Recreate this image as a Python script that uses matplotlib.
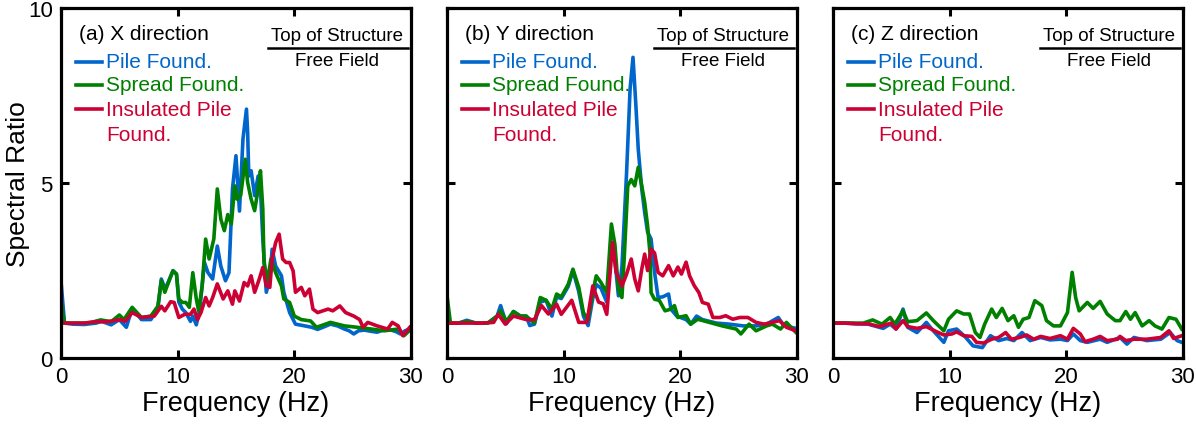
import matplotlib
matplotlib.use("Agg")
import matplotlib.pyplot as plt

plt.rcParams['font.family'] = ['Liberation Sans', 'DejaVu Sans']

# ---- data (frequency in Hz, spectral ratio) ----
# (a) X direction
fa_pile = [0, 0.3, 1.0, 2.0, 3.0, 3.5, 4.3, 5.0, 5.6, 6.1, 6.9, 7.7, 8.3, 8.6, 8.9, 9.1, 9.6, 9.9,
           10.1, 10.4, 10.7, 11.1, 11.3, 11.6, 11.9, 12.3, 12.6, 13.0, 13.4, 13.7, 14.1, 14.4, 14.7,
           15.0, 15.3, 15.6, 15.9, 16.0, 16.1, 16.3, 16.6, 16.9, 17.1, 17.3, 17.6, 17.9, 18.1, 18.4,
           18.9, 19.1, 19.6, 20.1, 20.9, 21.5, 22.0, 22.6, 23.1, 23.7, 24.3, 24.7, 25.1, 25.5, 26.0,
           26.5, 27.1, 27.6, 28.3, 28.7, 29.1, 29.5, 29.9]
va_pile = [2.2, 1.0, 0.97, 0.96, 1.0, 1.05, 0.95, 1.1, 0.88, 1.42, 1.1, 1.1, 1.4, 2.26, 2.0, 2.1, 2.5, 2.4,
           1.6, 1.4, 1.3, 1.05, 1.2, 0.95, 1.4, 2.73, 2.44, 2.26, 3.2, 2.63, 2.21, 2.44, 4.83,
           5.78, 4.2, 6.26, 7.11, 6.45, 5.2, 5.35, 4.64, 5.2, 4.83, 3.4, 1.88, 2.26, 3.11, 2.63,
           2.35, 1.88, 1.3, 0.97, 0.92, 0.88, 0.82, 0.9, 0.97, 0.92, 0.83, 0.78, 0.69, 0.78, 0.8,
           0.77, 0.74, 0.8, 0.8, 0.76, 0.69, 0.78, 0.83]
fa_spread = [0, 0.3, 1.0, 2.0, 2.6, 3.4, 4.3, 5.0, 5.4, 6.1, 6.9, 7.7, 8.3, 8.6, 8.9, 9.1, 9.6, 9.9,
             10.1, 10.4, 10.7, 11.0, 11.3, 11.6, 11.8, 12.1, 12.4, 12.7, 13.1, 13.4, 13.7, 14.0, 14.3,
             14.6, 14.9, 15.1, 15.4, 15.8, 16.0, 16.3, 16.6, 16.9, 17.1, 17.3, 17.4, 17.7, 18.0, 18.4,
             18.9, 19.1, 19.6, 20.0, 20.6, 21.4, 21.9, 23.1, 24.3, 25.4, 26.6, 27.7, 28.9, 29.4, 30]
va_spread = [1.6, 1.0, 1.0, 1.0, 1.02, 1.09, 1.04, 1.23, 1.1, 1.45, 1.16, 1.2, 1.48, 2.21, 1.88, 2.06, 2.49, 2.4,
             1.69, 1.59, 1.59, 1.45, 2.44, 1.69, 1.35, 2.06, 3.4, 2.83, 3.4, 4.83, 3.97, 3.64, 4.1,
             3.83, 4.92, 4.54, 4.64, 5.68, 5.02, 4.54, 4.21, 4.83, 5.35, 4.26, 2.73, 2.21, 2.83, 2.44,
             2.06, 1.69, 1.59, 1.2, 1.1, 1.06, 0.88, 1.02, 0.92, 0.88, 0.83, 0.78, 0.83, 0.64, 0.83]
fa_insul = [0, 1, 2, 3, 4, 5.1, 5.5, 6.1, 6.9, 8.0, 8.6, 8.9, 9.4, 9.7, 10.1, 10.6, 11.1, 11.4, 11.7,
            12.0, 12.4, 12.7, 13.0, 13.4, 13.9, 14.3, 14.7, 14.9, 15.3, 15.7, 16.0, 16.3, 16.6, 17.0,
            17.3, 17.6, 17.9, 18.1, 18.4, 18.7, 19.0, 19.3, 19.6, 19.9, 20.1, 20.6, 20.9, 21.3, 21.6,
            22.0, 22.9, 23.3, 23.9, 24.4, 25.1, 25.6, 25.9, 26.3, 27.1, 28.0, 28.4, 28.9, 29.3, 29.9]
va_insul = [1.0, 1.0, 1.0, 1.04, 1.04, 1.1, 1.05, 1.3, 1.16, 1.2, 1.48, 1.35, 1.61, 1.59, 1.16, 1.25, 1.25, 1.4, 1.1,
            1.3, 1.73, 1.49, 1.73, 2.12, 1.69, 1.92, 1.54, 1.92, 1.63, 2.16, 2.06, 2.35, 1.88, 2.26,
            2.59, 2.06, 2.02, 2.83, 3.3, 3.54, 2.83, 2.73, 2.73, 2.49, 1.88, 2.02, 1.78, 1.97, 1.4,
            1.3, 1.4, 1.35, 1.49, 1.3, 1.2, 1.1, 0.88, 1.02, 0.92, 0.83, 1.02, 0.92, 0.64, 0.88]

# (b) Y direction
fb_pile = [0, 0.3, 1.0, 1.7, 2.5, 3.5, 4.3, 4.6, 5.1, 5.7, 6.3, 6.8, 7.1, 7.5, 8.0, 8.5, 9.0, 9.4, 9.8,
           10.4, 10.8, 11.3, 11.7, 12.1, 12.5, 12.8, 13.2, 13.7, 14.1, 14.4, 14.7, 15.0, 15.4, 15.7,
           15.95, 16.2, 16.4, 16.7, 16.95, 17.2, 17.5, 17.8, 18.1, 18.5, 19.0, 19.2, 19.7, 20.5, 20.9,
           21.4, 21.9, 23.1, 24.2, 25.4, 26.5, 27.4, 28.4, 28.8, 29.5, 29.9]
vb_pile = [1.3, 1.0, 1.0, 1.08, 1.0, 1.0, 1.2, 1.5, 0.98, 1.33, 1.2, 1.2, 0.93, 0.97, 1.6, 1.65, 1.2, 1.75, 1.7,
           2.05, 2.5, 1.9, 1.2, 0.93, 1.7, 2.1, 2.0, 1.6, 3.3, 2.8, 1.78, 2.6, 5.3, 7.69,
           8.59, 7.2, 5.97, 4.83, 4.16, 3.6, 3.4, 2.45, 1.73, 1.75, 1.83, 1.4, 1.2, 1.1, 0.97,
           1.2, 1.1, 1.0, 0.97, 0.92, 0.92, 0.97, 1.16, 0.97, 0.88, 0.85]
fb_spread = [0, 0.3, 1.0, 1.7, 2.5, 3.5, 4.3, 4.6, 5.1, 5.7, 6.3, 6.8, 7.5, 8.0, 8.5, 9.0, 9.4, 9.8,
             10.4, 10.8, 11.3, 11.7, 12.1, 12.5, 12.8, 13.2, 13.7, 14.1, 14.4, 14.7, 15.0, 15.2, 15.5,
             15.8, 16.1, 16.4, 16.7, 16.95, 17.2, 17.4, 17.5, 17.8, 18.2, 18.7, 19.2, 19.5, 19.8, 20.5,
             20.9, 21.5, 22.5, 23.6, 24.8, 25.2, 25.9, 26.5, 27.4, 27.9, 28.6, 29.1, 29.9]
vb_spread = [1.8, 1.0, 1.0, 1.05, 1.0, 1.0, 1.2, 1.35, 1.05, 1.33, 1.2, 1.2, 1.0, 1.73, 1.65, 1.4, 1.83, 1.75,
             2.11, 2.54, 2.02, 1.3, 1.1, 1.87, 2.35, 2.16, 1.87, 3.83, 3.24, 1.95, 1.73, 2.88, 4.92,
             5.1, 4.92, 5.45, 4.92, 4.45, 3.78, 3.02, 1.87, 1.68, 1.65, 1.35, 1.4, 1.5, 1.16, 1.21,
             0.97, 1.11, 1.02, 0.92, 0.83, 0.69, 0.97, 0.78, 0.92, 0.97, 0.83, 1.02, 0.74]
fb_insul = [0, 1, 2, 3, 4, 4.4, 5.0, 5.7, 6.8, 7.5, 8.1, 8.7, 9.4, 9.8, 10.7, 11.3, 12.0, 12.5, 13.0,
            13.4, 13.7, 14.2, 14.5, 15.0, 15.4, 15.8, 16.1, 16.4, 16.7, 16.95, 17.2, 17.5, 17.8, 18.1,
            18.5, 19.0, 19.4, 19.8, 20.1, 20.5, 20.8, 21.2, 21.6, 21.9, 22.4, 22.8, 23.4, 23.9, 24.5,
            25.1, 25.8, 26.5, 27.2, 27.9, 28.5, 29.1, 29.9]
vb_insul = [1.0, 1.0, 1.0, 1.0, 1.02, 1.25, 0.97, 1.2, 1.1, 1.1, 1.5, 1.26, 1.54, 1.25, 1.65, 1.02, 1.02, 2.06, 1.6,
            1.55, 1.25, 3.3, 2.45, 2.06, 2.4, 2.83, 2.26, 1.92, 2.54, 2.97, 2.5, 3.11, 3.0, 2.45,
            2.35, 2.64, 2.35, 2.6, 2.4, 2.74, 2.35, 2.07, 1.87, 1.59, 1.54, 1.16, 1.16, 1.21, 1.11,
            1.16, 1.16, 1.02, 0.97, 1.02, 1.07, 0.88, 0.78]

# (c) Z direction
fc_pile = [0, 1.0, 2.0, 3.0, 4.3, 4.9, 5.4, 6.0, 6.4, 7.2, 8.0, 8.6, 9.5, 9.9, 10.6, 11.3, 12.0, 12.8,
           13.5, 14.2, 14.9, 15.5, 16.2, 16.9, 17.8, 18.6, 19.5, 20.1, 20.6, 21.2, 21.8, 22.9, 23.5,
           24.6, 25.2, 25.8, 26.9, 28.1, 28.9, 29.5, 29.9]
vc_pile = [1.0, 1.0, 0.98, 0.97, 0.85, 0.97, 0.83, 1.4, 0.88, 0.73, 1.02, 0.78, 0.45, 0.78, 0.83, 0.62, 0.35, 0.3,
           0.64, 0.5, 0.56, 0.5, 0.73, 0.5, 0.59, 0.52, 0.54, 0.5, 0.69, 0.5, 0.45, 0.54, 0.45,
           0.59, 0.4, 0.59, 0.5, 0.54, 0.73, 0.5, 0.45]
fc_spread = [0, 1.0, 2.0, 2.6, 3.4, 4.2, 4.9, 5.3, 6.0, 6.4, 7.2, 8.0, 8.6, 9.5, 9.9, 10.6, 11.2, 11.7,
             12.2, 12.6, 13.0, 13.6, 14.0, 14.5, 15.0, 15.5, 15.9, 16.3, 16.8, 17.3, 17.9, 18.3, 18.9,
             19.5, 20.1, 20.5, 20.8, 21.1, 21.8, 22.3, 22.9, 23.5, 24.2, 24.6, 25.1, 25.5, 25.9, 26.5,
             27.1, 27.6, 28.2, 28.8, 29.4, 29.9]
vc_spread = [1.0, 1.0, 1.0, 1.0, 1.09, 0.97, 1.16, 0.97, 1.35, 1.04, 1.07, 1.29, 1.07, 0.78, 1.11, 1.35, 1.26, 1.26,
             0.73, 0.59, 0.97, 1.4, 1.16, 1.42, 1.07, 1.21, 0.88, 1.11, 1.16, 1.64, 1.5, 1.07, 0.92,
             0.92, 1.3, 2.45, 1.73, 1.35, 1.59, 1.42, 1.62, 1.26, 1.07, 1.07, 1.33, 1.11, 1.3, 0.92,
             1.07, 0.92, 0.83, 1.16, 1.11, 0.83]
fc_insul = [0, 1, 2, 3, 4.0, 5.0, 5.4, 6.0, 6.4, 7.2, 8.0, 8.9, 9.5, 10.2, 10.6, 11.2, 11.9, 12.3, 12.9,
            13.6, 14.2, 14.8, 15.3, 16.0, 16.6, 17.2, 17.8, 18.6, 19.5, 20.1, 20.6, 21.2, 21.6, 22.3,
            22.9, 23.5, 24.4, 24.6, 25.1, 25.8, 26.9, 28.1, 28.8, 29.2, 29.9]
vc_insul = [1.0, 1.0, 0.98, 0.98, 0.9, 1.0, 0.83, 1.07, 0.9, 0.85, 0.9, 0.75, 0.66, 0.69, 0.75, 0.64, 0.62, 0.45, 0.43,
            0.54, 0.59, 0.73, 0.54, 0.59, 0.66, 0.54, 0.62, 0.56, 0.64, 0.54, 0.85, 0.69, 0.47, 0.54,
            0.62, 0.5, 0.54, 0.62, 0.5, 0.54, 0.54, 0.59, 0.78, 0.56, 0.64]

labels = ["Pile Found.", "Spread Found.", "Insulated Pile"]
colors = ["#0066cc", "#008000", "#cc0033"]
titles = ["(a) X direction", "(b) Y direction", "(c) Z direction"]
panels = [
    [(fa_pile, va_pile), (fa_spread, va_spread), (fa_insul, va_insul)],
    [(fb_pile, vb_pile), (fb_spread, vb_spread), (fb_insul, vb_insul)],
    [(fc_pile, vc_pile), (fc_spread, vc_spread), (fc_insul, vc_insul)],
]

fig = plt.figure(figsize=(11.96, 4.27), dpi=100)
lefts = [0.051, 0.3737, 0.6965]

for i in range(3):
    ax = fig.add_axes([lefts[i], 0.159, 0.2926, 0.82])
    for (f, v), c in zip(panels[i], colors):
        ax.plot(f, v, color=c, lw=2.6)

    ax.set_xlim(0, 30)
    ax.set_ylim(0, 10)
    ax.set_xticks([0, 10, 20, 30])
    ax.set_yticks([0, 5, 10])
    ax.tick_params(direction='in', top=True, right=True, length=6, width=2.2,
                   labelsize=16, pad=6)
    for s in ax.spines.values():
        s.set_linewidth(2.3)
    if i == 0:
        ax.set_ylabel("Spectral Ratio", fontsize=19)
        ax.yaxis.set_label_coords(-0.088, 0.5)
    else:
        ax.tick_params(labelleft=False)
    ax.set_xlabel("Frequency (Hz)", fontsize=19.5, labelpad=2)

    # panel title and hand-made legend
    ax.text(0.051, 0.926, titles[i], transform=ax.transAxes, fontsize=15, va='center')
    ys = [0.846, 0.78, 0.711]
    for lab, c, y in zip(labels, colors, ys):
        ax.plot([0.043, 0.117], [y, y], color=c, lw=2.6, transform=ax.transAxes)
        ax.text(0.129, y, lab, color=c, transform=ax.transAxes, fontsize=15, va='center')
    ax.text(0.129, 0.64, "Found.", color=colors[2], transform=ax.transAxes,
            fontsize=15, va='center')

    # ratio label
    ax.text(0.79, 0.922, "Top of Structure", transform=ax.transAxes, fontsize=13.5,
            ha='center', va='center')
    ax.plot([0.591, 0.991], [0.886, 0.886], color='black', lw=1.8, transform=ax.transAxes)
    ax.text(0.79, 0.849, "Free Field", transform=ax.transAxes, fontsize=13.5,
            ha='center', va='center')

fig.savefig("out.png", dpi=100)
